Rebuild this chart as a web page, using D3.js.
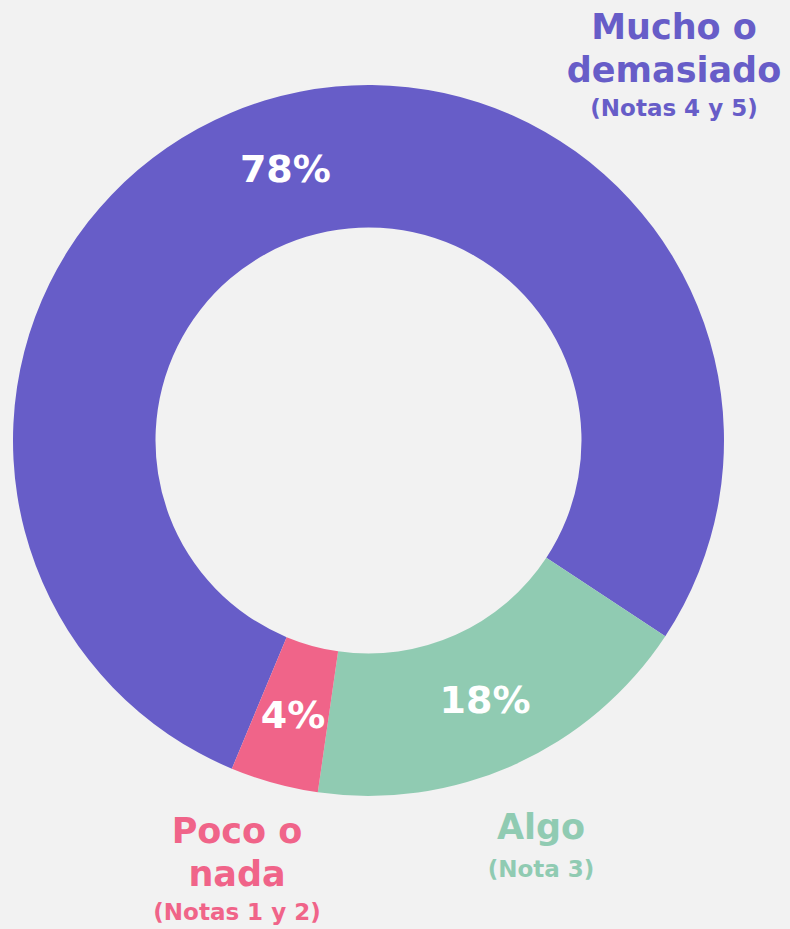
<!DOCTYPE html>
<html>
<head>
	<meta charset="utf-8">
	<script src="https://d3js.org/d3.v7.min.js"></script>
	<style>
		body{ margin: 0; background: #f2f2f2; }
		text{
			font-family: "DejaVu Sans", sans-serif;
			font-weight: bold;
			text-anchor: middle;
		}
	</style>
</head>
<body>
	<script>
		var width = 790, height = 929;

		// data
		var categories = ["Mucho o demasiado", "Algo", "Poco o nada"];
		var values = [78, 18, 4];
		var nameLines = [["Mucho o", "demasiado"], ["Algo"], ["Poco o", "nada"]];
		var notes = ["(Notas 4 y 5)", "(Nota 3)", "(Notas 1 y 2)"];
		var colors = ["#675dc8", "#90cbb2", "#f06489"];

		// layout
		var cx = 368.5, cy = 440.5, outer = 355.5, inner = 213;
		var start = 202.6 * Math.PI / 180;
		var labelPos = [[674, 39], [541, 839], [237, 843]];

		var svg = d3.select("body").append("svg")
					.attr("width", width).attr("height", height);

		var pie = d3.pie().sort(null).value(function(d){ return d; })
					.startAngle(start).endAngle(start + 2 * Math.PI);
		var arc = d3.arc().innerRadius(inner).outerRadius(outer);
		var slices = pie(values);

		var g = svg.append("g").attr("transform", "translate(" + cx + "," + cy + ")");

		g.selectAll("path").data(slices).enter().append("path")
			.attr("d", arc)
			.attr("fill", function(d, i){ return colors[i]; });

		g.selectAll("text.pct").data(slices).enter().append("text")
			.attr("class", "pct")
			.attr("transform", function(d){ return "translate(" + arc.centroid(d) + ")"; })
			.attr("dy", "0.36em")
			.attr("fill", "#fff")
			.attr("font-size", 38)
			.text(function(d){ return d.data + "%"; });

		var labels = svg.append("g").selectAll("g").data(categories).enter().append("g")
			.attr("transform", function(d, i){ return "translate(" + labelPos[i][0] + "," + labelPos[i][1] + ")"; })
			.attr("fill", function(d, i){ return colors[i]; });

		labels.each(function(d, i){
			var sel = d3.select(this);
			nameLines[i].forEach(function(line, j){
				sel.append("text").attr("y", j * 43).attr("font-size", 35).text(line);
			});
			sel.append("text")
				.attr("y", (nameLines[i].length - 1) * 43 + (i == 1 ? 38 : 34))
				.attr("font-size", 23)
				.text(notes[i]);
		});
	</script>
</body>
</html>
